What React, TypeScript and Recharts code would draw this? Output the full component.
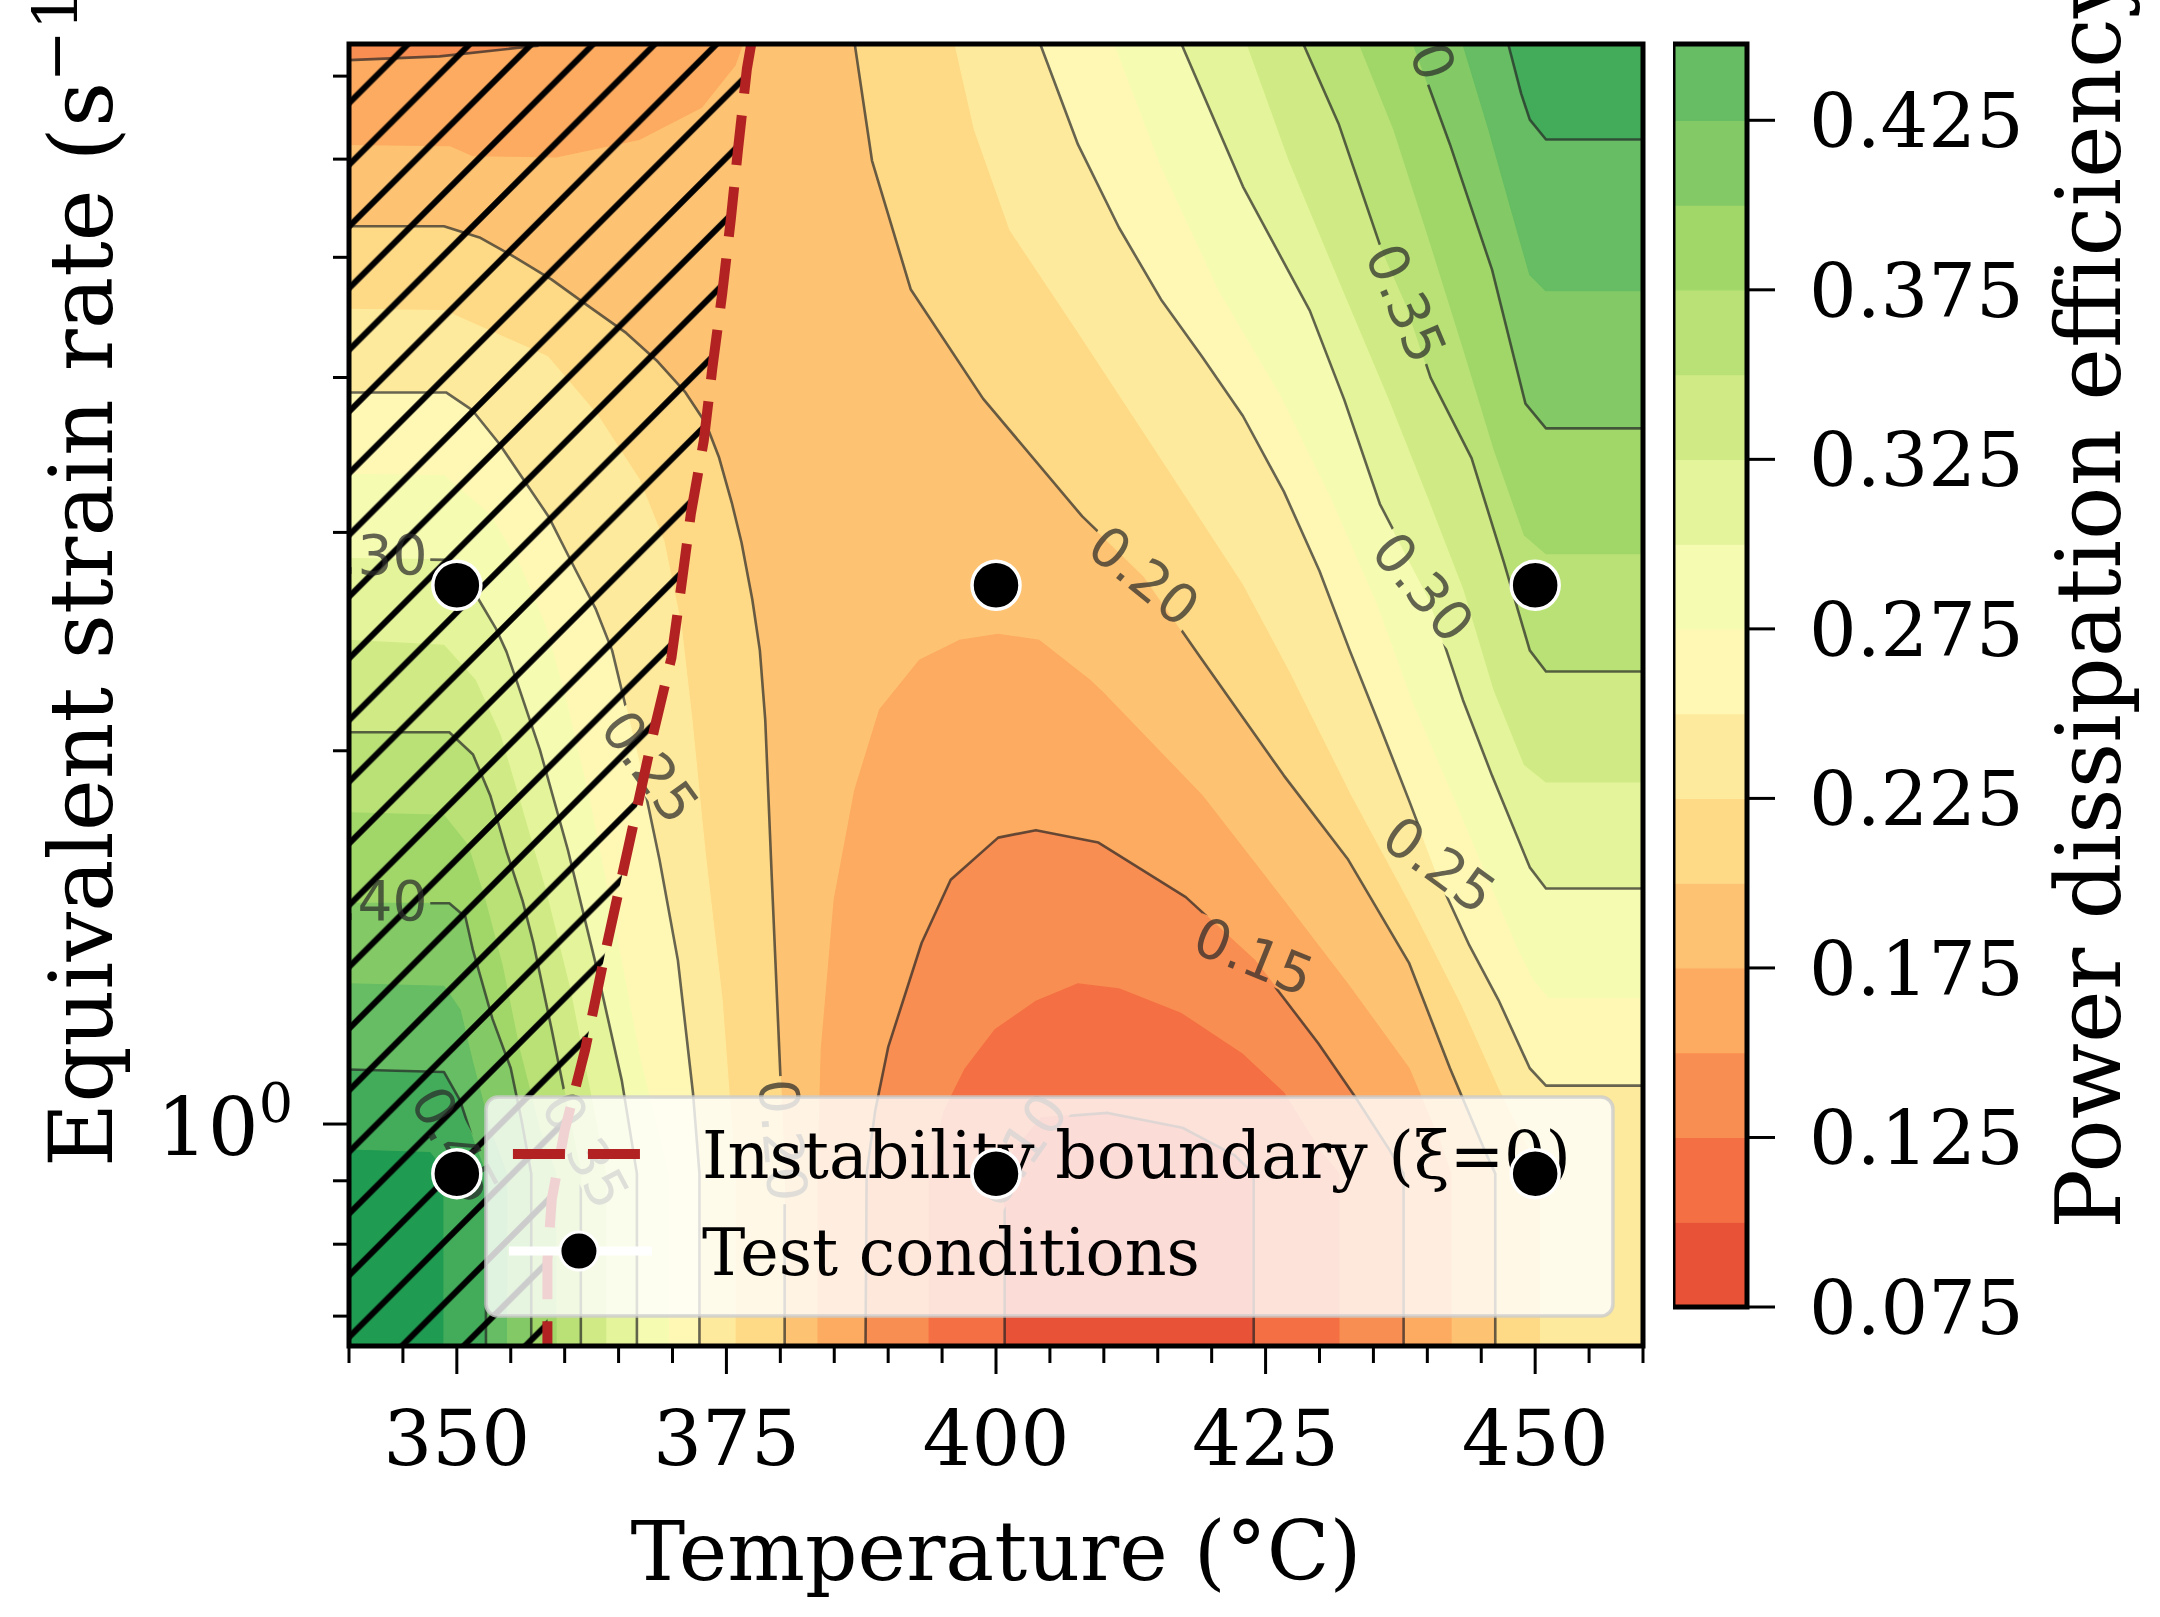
import React from 'react';
import { ScatterChart, Scatter, XAxis, YAxis } from 'recharts';

const SERIF = '"DejaVu Serif", "Liberation Serif", serif';
const SANS = '"DejaVu Sans", "Liberation Sans", sans-serif';
const FIG_W = 2160;
const FIG_H = 1617;

// ---- axes ----
const T_MIN = 340;
const T_MAX = 460;
const LOG_RATE_MIN = -0.179; // log10 of strain rate at the bottom of the plot
const LOG_RATE_MAX = 0.871;  // log10 of strain rate at the top of the plot
const Y_DOMAIN = [Math.pow(10, LOG_RATE_MIN), Math.pow(10, LOG_RATE_MAX)];
const X_TICKS = [340, 345, 350, 355, 360, 365, 370, 375, 380, 385, 390, 395, 400, 405, 410, 415, 420, 425, 430, 435, 440, 445, 450, 455, 460];
const X_MAJOR_TICKS = [350, 375, 400, 425, 450];
const Y_TICKS = [0.7, 0.8, 0.9, 1, 2, 3, 4, 5, 6, 7];
const Y_MAJOR_TICKS = [1];

// ---- test conditions ----
const TEST_TEMPS = [350, 400, 450, 350, 400, 450];
const TEST_RATES = [2.72, 2.72, 2.72, 0.912, 0.912, 0.912];

// ---- contour bands (lower bound of each band) and colours ----
const BAND_LEVELS = [0.075, 0.1, 0.125, 0.15, 0.175, 0.2, 0.225, 0.25, 0.275, 0.3, 0.325, 0.35, 0.375, 0.4, 0.425, 0.45, 0.475];
const BAND_COLORS = ['#e85337', '#f47044', '#f98e52', '#fdab60', '#fdc272', '#fed986', '#feea9c', '#fff8b4', '#f6fbb2', '#e4f49a', '#d0eb85', '#b9e176', '#a1d769', '#83ca66', '#66bd63', '#43ac5a', '#209b52'];
const BAND_STEP = 0.025;

// ---- colorbar ----
const CB_MIN = 0.075;
const CB_MAX = 0.4475;
const CB_TICKS = [0.075, 0.125, 0.175, 0.225, 0.275, 0.325, 0.375, 0.425];

// ---- iso-efficiency curves read from the map: [temperature (°C), log10 strain rate] ----
// top-left low corner (efficiency below the level)
const ISO_TL_015 = [[340, 0.858], [348.4, 0.861], [356.8, 0.869], [359.6, 0.871]];
const ISO_TL_0175 = [[340, 0.79], [349.4, 0.789], [351.5, 0.781], [359.2, 0.78], [366.9, 0.794], [372.7, 0.82], [375.8, 0.854], [376.5, 0.871]];
// central valley (efficiency below the level)
const ISO_V_0175 = [[383.5, -0.179], [383.5, -0.04], [383.8, 0.06], [385.0, 0.181], [386.9, 0.269], [389.2, 0.334], [392.9, 0.374], [396.6, 0.39], [400.2, 0.395], [404.0, 0.39], [408.7, 0.358], [409.9, 0.348], [419.1, 0.265], [426.7, 0.18], [432.6, 0.113], [438.3, 0.045], [441.1, -0.013], [442.2, -0.04], [442.2, -0.179]];
const ISO_V_015 = [[387.9, -0.179], [388.0, -0.04], [388.8, 0.011], [390.0, 0.062], [393.1, 0.146], [395.8, 0.197], [400.2, 0.231], [403.7, 0.237], [409.5, 0.227], [417.6, 0.183], [424.0, 0.132], [429.9, 0.065], [433.3, 0.022], [436.5, -0.021], [437.8, -0.04], [437.8, -0.179]];
const ISO_V_0125 = [[393.8, -0.179], [393.8, -0.04], [395.2, 0.011], [397.1, 0.044], [399.9, 0.076], [403.7, 0.099], [407.6, 0.113], [411.4, 0.109], [417.2, 0.089], [422.9, 0.056], [426.7, 0.025], [430.0, -0.021], [431.8, -0.04], [431.8, -0.179]];
const ISO_V_010 = [[400.8, -0.179], [400.8, -0.04], [401.7, -0.021], [404.2, 0.005], [410.3, 0.009], [417.3, -0.003], [422.1, -0.025], [423.9, -0.04], [423.9, -0.179]];
// left (low temperature) high-efficiency side
const ISO_L_020 = [[340, 0.724], [348.8, 0.724], [352.1, 0.715], [355.4, 0.699], [358.8, 0.681], [362.3, 0.659], [365.7, 0.638], [368.5, 0.616], [371.2, 0.59], [373.1, 0.565], [374.3, 0.538], [375.5, 0.501], [376.4, 0.469], [377.4, 0.423], [378.1, 0.382], [378.6, 0.326], [379.2, 0.2], [379.9, 0.06], [380.4, -0.04], [380.4, -0.179]];
const ISO_L_0225 = [[340, 0.657], [348.8, 0.656], [358.4, 0.619], [363.1, 0.571], [366.9, 0.52], [369.2, 0.47], [370.8, 0.402], [371.8, 0.326], [373.0, 0.221], [374.6, 0.1], [375.8, -0.04], [375.8, -0.179]];
const ISO_L_025 = [[340, 0.59], [349.0, 0.59], [351.4, 0.576], [353.9, 0.549], [356.4, 0.517], [358.5, 0.49], [361.0, 0.447], [362.9, 0.415], [364.4, 0.382], [365.4, 0.346], [367.0, 0.288], [368.8, 0.213], [370.5, 0.132], [371.9, 0.025], [372.5, -0.04], [372.5, -0.179]];
const ISO_L_0275 = [[340, 0.524], [348.8, 0.523], [353.1, 0.491], [355.8, 0.451], [358.2, 0.402], [360.0, 0.346], [362.3, 0.261], [364.7, 0.156], [367.0, 0.052], [369.6, -0.04], [369.6, -0.179]];
const ISO_L_030 = [[340, 0.456], [349.3, 0.455], [350.8, 0.441], [352.3, 0.419], [353.6, 0.4], [354.6, 0.381], [355.6, 0.356], [357.7, 0.302], [360.3, 0.221], [362.8, 0.132], [365.3, 0.035], [366.7, -0.04], [366.7, -0.179]];
const ISO_L_0325 = [[340, 0.39], [348.8, 0.386], [351.7, 0.358], [354.0, 0.314], [355.8, 0.261], [358.2, 0.189], [360.5, 0.108], [362.5, 0.019], [363.8, -0.04], [363.8, -0.179]];
const ISO_L_035 = [[340, 0.316], [349.3, 0.316], [351.5, 0.298], [353.1, 0.265], [354.6, 0.22], [356.1, 0.18], [357.1, 0.146], [358.8, 0.076], [360.5, 0.003], [361.5, -0.04], [361.5, -0.179]];
const ISO_L_0375 = [[340, 0.251], [348.8, 0.249], [351.0, 0.225], [352.6, 0.181], [354.2, 0.128], [355.8, 0.06], [357.7, -0.005], [359.2, -0.04], [359.2, -0.179]];
const ISO_L_040 = [[340, 0.178], [349.3, 0.178], [350.8, 0.167], [351.5, 0.14], [353.3, 0.085], [355.0, 0.045], [356.0, 0.003], [356.9, -0.04], [356.9, -0.179]];
const ISO_L_0425 = [[340, 0.113], [348.8, 0.111], [350.3, 0.092], [351.4, 0.052], [353.1, -0.005], [354.6, -0.04], [354.6, -0.179]];
const ISO_L_045 = [[340, 0.044], [348.8, 0.042], [350.3, 0.019], [351.5, -0.013], [352.7, -0.04], [352.7, -0.179]];
const ISO_L_0475 = [[340, -0.021], [347.5, -0.023], [348.4, -0.033], [348.7, -0.04], [348.7, -0.179]];
// right (high temperature) high-efficiency side
const ISO_R_020 = [[386.9, 0.871], [388.5, 0.777], [392.1, 0.673], [398.8, 0.585], [408.0, 0.49], [413.7, 0.442], [418.9, 0.377], [426.7, 0.281], [432.6, 0.214], [438.3, 0.13], [442.1, 0.045], [445.3, -0.021], [446.3, -0.04], [446.3, -0.179]];
const ISO_R_0225 = [[396.2, 0.871], [398.0, 0.802], [401.3, 0.721], [407.6, 0.639], [415.3, 0.537], [422.9, 0.436], [427.2, 0.366], [433.0, 0.265], [438.3, 0.18], [443.2, 0.096], [446.7, 0.028], [449.5, -0.021], [450.5, -0.04], [450.5, -0.179]];
const ISO_R_025 = [[404.1, 0.871], [407.6, 0.79], [411.4, 0.723], [415.3, 0.665], [419.1, 0.619], [422.9, 0.571], [426.7, 0.51], [430.0, 0.446], [432.8, 0.382], [435.6, 0.321], [438.3, 0.261], [441.1, 0.197], [443.9, 0.144], [446.6, 0.1], [449.5, 0.045], [451.0, 0.031], [460, 0.031]];
const ISO_R_0275 = [[411.0, 0.871], [415.3, 0.773], [420.7, 0.672], [426.4, 0.588], [431.2, 0.503], [435.4, 0.419], [438.6, 0.342], [442.6, 0.261], [445.7, 0.197], [448.5, 0.14], [449.9, 0.116], [451.3, 0.102], [460, 0.102]];
const ISO_R_030 = [[417.2, 0.871], [422.9, 0.756], [429.1, 0.656], [432.3, 0.584], [435.6, 0.5], [440.2, 0.423], [443.3, 0.342], [446.0, 0.281], [449.5, 0.207], [451.0, 0.19], [460, 0.19]];
const ISO_R_0325 = [[423.3, 0.871], [427.2, 0.777], [431.8, 0.681], [436.5, 0.584], [440.2, 0.503], [443.4, 0.431], [446.2, 0.35], [449.0, 0.29], [451.0, 0.276], [460, 0.276]];
const ISO_R_035 = [[428.5, 0.871], [431.8, 0.806], [435.6, 0.709], [438.0, 0.662], [440.3, 0.602], [444.1, 0.537], [447.1, 0.453], [449.5, 0.382], [451.0, 0.365], [460, 0.365]];
const ISO_R_0375 = [[433.7, 0.871], [436.9, 0.802], [440.2, 0.713], [443.4, 0.624], [446.2, 0.544], [449.0, 0.475], [451.0, 0.46], [460, 0.46]];
const ISO_R_040 = [[438.7, 0.871], [442.1, 0.79], [446.0, 0.689], [449.1, 0.581], [451.0, 0.561], [460, 0.561]];
const ISO_R_0425 = [[443.3, 0.871], [445.7, 0.802], [447.8, 0.737], [449.5, 0.685], [451.0, 0.672], [460, 0.672]];
const ISO_R_045 = [[447.5, 0.871], [448.7, 0.831], [449.5, 0.81], [451.0, 0.794], [460, 0.794]];

// instability boundary (xi = 0)
const INSTABILITY = [[377.3, 0.871], [376.9, 0.851], [376.1, 0.788], [375.4, 0.729], [374.6, 0.669], [373.7, 0.61], [372.9, 0.551], [371.7, 0.492], [370.8, 0.433], [369.9, 0.376], [368.3, 0.318], [366.1, 0.231], [363.8, 0.14], [361.9, 0.06], [360.0, -0.005], [358.8, -0.061], [358.4, -0.11], [358.4, -0.179]];

// contour labels: temperature, log10 rate, text, rotation
const LABEL_TEMPS = [413.7, 423.9, 441.1, 439.6, 438.0, 439.1, 367.9, 341.6, 341.6, 349.8, 363.3, 402.2, 380.2, 361.9];
const LABEL_LOGRATES = [0.442, 0.135, 0.209, 0.433, 0.662, 0.89, 0.288, 0.459, 0.18, -0.017, 0.889, -0.021, -0.013, -0.021];
const LABEL_TEXTS = ['0.20', '0.15', '0.25', '0.30', '0.35', '0.40', '0.25', '0.30', '0.40', '0.45', '0.15', '0.10', '0.20', '0.35'];
const LABEL_ANGLES = [39, 22, 36, 50, 67, 70, 54, 0, 0, 62, -6, -55, 85, 62];

// legend anchor (upper-left corner of the legend frame)
const LEGEND_T = 352.7;
const LEGEND_LOGRATE = 0.0218;

// ---------- derived tables ----------
const BL = [T_MIN, LOG_RATE_MIN];
const BR = [T_MAX, LOG_RATE_MIN];
const TR = [T_MAX, LOG_RATE_MAX];
const TL = [T_MIN, LOG_RATE_MAX];
const toRows = (arr) => arr.map(([t, l]) => ({ t, r: Math.pow(10, l) }));
const colorOf = (lev) => BAND_COLORS[BAND_LEVELS.indexOf(lev)];

const REGIONS = [
  { pts: [BL, BR, TR, TL], lev: 0.175 },
  { pts: [...ISO_TL_0175, TL], lev: 0.15 },
  { pts: [...ISO_TL_015, TL], lev: 0.125 },
  { pts: ISO_V_0175, lev: 0.15 },
  { pts: ISO_V_015, lev: 0.125 },
  { pts: ISO_V_0125, lev: 0.1 },
  { pts: ISO_V_010, lev: 0.075 },
  { pts: [...ISO_L_020, BL], lev: 0.2 },
  { pts: [...ISO_R_020, BR, TR], lev: 0.2 },
  { pts: [...ISO_L_0225, BL], lev: 0.225 },
  { pts: [...ISO_R_0225, BR, TR], lev: 0.225 },
  { pts: [...ISO_L_025, BL], lev: 0.25 },
  { pts: [...ISO_R_025, TR], lev: 0.25 },
  { pts: [...ISO_L_0275, BL], lev: 0.275 },
  { pts: [...ISO_R_0275, TR], lev: 0.275 },
  { pts: [...ISO_L_030, BL], lev: 0.3 },
  { pts: [...ISO_R_030, TR], lev: 0.3 },
  { pts: [...ISO_L_0325, BL], lev: 0.325 },
  { pts: [...ISO_R_0325, TR], lev: 0.325 },
  { pts: [...ISO_L_035, BL], lev: 0.35 },
  { pts: [...ISO_R_035, TR], lev: 0.35 },
  { pts: [...ISO_L_0375, BL], lev: 0.375 },
  { pts: [...ISO_R_0375, TR], lev: 0.375 },
  { pts: [...ISO_L_040, BL], lev: 0.4 },
  { pts: [...ISO_R_040, TR], lev: 0.4 },
  { pts: [...ISO_L_0425, BL], lev: 0.425 },
  { pts: [...ISO_R_0425, TR], lev: 0.425 },
  { pts: [...ISO_L_045, BL], lev: 0.45 },
  { pts: [...ISO_R_045, TR], lev: 0.45 },
  { pts: [...ISO_L_0475, BL], lev: 0.475 },
];

const CONTOUR_LINES = [ISO_TL_015, ISO_V_015, ISO_V_010, ISO_L_020, ISO_L_025, ISO_L_030, ISO_L_035, ISO_L_040, ISO_L_045, ISO_R_020, ISO_R_025, ISO_R_030, ISO_R_035, ISO_R_040, ISO_R_045];

const LABEL_ROWS = LABEL_TEMPS.map((t, i) => ({ t, r: Math.pow(10, LABEL_LOGRATES[i]), text: LABEL_TEXTS[i], angle: LABEL_ANGLES[i] }));
const TEST_ROWS = TEST_TEMPS.map((t, i) => ({ t, r: TEST_RATES[i] }));
const LEGEND_ROWS = [{ t: LEGEND_T, r: Math.pow(10, LEGEND_LOGRATE) }];
const HATCH_ROWS = toRows([...INSTABILITY, BL, TL]);
const FRAME_ROWS = toRows([BL, BR, TR, TL]);

// colorbar cells: one rectangle per band
const CB_BANDS = BAND_LEVELS.filter((lev) => lev < CB_MAX).map((lev) => {
  const top = Math.min(lev + BAND_STEP, CB_MAX);
  return { lev, rows: [{ x: 0, v: lev }, { x: 1, v: lev }, { x: 1, v: top }, { x: 0, v: top }] };
});
const CB_FRAME_ROWS = [{ x: 0, v: CB_MIN }, { x: 1, v: CB_MIN }, { x: 1, v: CB_MAX }, { x: 0, v: CB_MAX }];

// ---------- renderers ----------
const pathOf = (pts) => (pts || []).map((p, i) => `${i ? 'L' : 'M'}${Number(p.x).toFixed(2)},${Number(p.y).toFixed(2)}`).join(' ');

const NoShape = () => <g />;

const FillPoly = (props) => (
  <path d={pathOf(props.points) + ' Z'} fill={props.color} stroke={props.color} strokeWidth={1.2} strokeLinejoin="round" />
);

const ContourPath = (props) => (
  <path d={pathOf(props.points)} fill="none" stroke="#262626" strokeOpacity={0.7} strokeWidth={2.6} strokeLinejoin="round" mask="url(#clabel-mask)" />
);

const LabelMask = (props) => {
  const pts = props.points || [];
  return (
    <mask id="clabel-mask" maskUnits="userSpaceOnUse" x={0} y={0} width={FIG_W} height={FIG_H}>
      <rect x={0} y={0} width={FIG_W} height={FIG_H} fill="#fff" />
      {pts.map((p, i) => (
        <rect key={i} x={-64} y={-21} width={128} height={42} fill="#000" transform={`translate(${p.x},${p.y}) rotate(${LABEL_ANGLES[i]})`} />
      ))}
    </mask>
  );
};

const ContourLabel = (props) => {
  const { cx, cy, payload } = props;
  return (
    <text x={cx} y={cy} transform={`rotate(${payload.angle},${cx},${cy})`} textAnchor="middle" dominantBaseline="central" fontFamily={SANS} fontSize={55} fill="#2a2a2a" fillOpacity={0.72}>
      {payload.text}
    </text>
  );
};

const HatchPoly = (props) => (
  <g>
    <defs>
      <pattern id="hatch45" patternUnits="userSpaceOnUse" x={20.3} y={0} width={61.7} height={61.7}>
        <path d="M0,61.7 L61.7,0 M-15,15 L15,-15 M46.7,76.7 L76.7,46.7" stroke="#000" strokeWidth={6} />
      </pattern>
    </defs>
    <path d={pathOf(props.points) + ' Z'} fill="url(#hatch45)" stroke="none" />
  </g>
);

const DashedPath = (props) => (
  <path d={pathOf(props.points)} fill="none" stroke="#b22222" strokeWidth={10} strokeDasharray="50 22" />
);

const FramePath = (props) => (
  <path d={pathOf(props.points) + ' Z'} fill="none" stroke="#000" strokeWidth={props.width || 5} />
);

const TestPoint = (props) => (
  <circle cx={props.cx} cy={props.cy} r={24} fill="#000" stroke="#fff" strokeWidth={3.5} />
);

const LegendBox = (props) => {
  const { cx, cy } = props;
  return (
    <g>
      <rect x={cx} y={cy} width={1127} height={219} rx={12} ry={12} fill="#fff" fillOpacity={0.8} stroke="#cccccc" strokeOpacity={0.8} strokeWidth={3.5} />
      <line x1={cx + 27} x2={cx + 154} y1={cy + 57} y2={cy + 57} stroke="#b22222" strokeWidth={10} strokeDasharray="52 23" />
      <text x={cx + 216} y={cy + 81} fontFamily={SERIF} fontSize={65} fill="#000">Instability boundary (ξ=0)</text>
      <line x1={cx + 23} x2={cx + 166} y1={cy + 154} y2={cy + 154} stroke="#fff" strokeWidth={9} />
      <circle cx={cx + 93} cy={cy + 154} r={19} fill="#000" stroke="#fff" strokeWidth={3} />
      <text x={cx + 216} y={cy + 178} fontFamily={SERIF} fontSize={65} fill="#000">Test conditions</text>
    </g>
  );
};

const renderXTick = (props) => {
  const { x, y, payload } = props;
  const major = X_MAJOR_TICKS.includes(payload.value);
  return (
    <g>
      <line x1={x} y1={y} x2={x} y2={y + (major ? 28 : 17)} stroke="#000" strokeWidth={3} />
      {major ? (
        <text x={x} y={y + 119} textAnchor="middle" fontFamily={SERIF} fontSize={77} fill="#000">{payload.value}</text>
      ) : null}
    </g>
  );
};

const renderYTick = (props) => {
  const { x, y, payload } = props;
  const major = Y_MAJOR_TICKS.includes(payload.value);
  return (
    <g>
      <line x1={x} y1={y} x2={x - (major ? 26 : 16)} y2={y} stroke="#000" strokeWidth={3} />
      {major ? (
        <text x={x - 56} y={y + 31} textAnchor="end" fontFamily={SERIF} fontSize={80} fill="#000">
          10<tspan dy={-33} fontSize={54}>0</tspan>
        </text>
      ) : null}
    </g>
  );
};

const renderCbTick = (props) => {
  const { x, y, payload } = props;
  return (
    <g>
      <line x1={x} y1={y} x2={x + 28} y2={y} stroke="#000" strokeWidth={3} />
      <text x={x + 62} y={y + 27} fontFamily={SERIF} fontSize={75} fill="#000">{Number(payload.value).toFixed(3)}</text>
    </g>
  );
};

export default function App() {
  return (
    <div style={{ position: 'absolute', left: 0, top: 0, width: FIG_W, height: FIG_H, background: '#fff', overflow: 'hidden' }}>
      <div style={{ position: 'absolute', left: 0, top: 0 }}>
        <ScatterChart width={FIG_W} height={FIG_H} margin={{ top: 44, right: 517, bottom: 121, left: 0 }}>
          <XAxis dataKey="t" type="number" domain={[T_MIN, T_MAX]} ticks={X_TICKS} interval={0} tick={renderXTick} tickSize={0} tickMargin={0} tickLine={false} axisLine={false} height={150} allowDataOverflow />
          <YAxis dataKey="r" type="number" scale="log" domain={Y_DOMAIN} ticks={Y_TICKS} interval={0} tick={renderYTick} tickSize={0} tickMargin={0} tickLine={false} axisLine={false} width={349} allowDataOverflow />
          <XAxis xAxisId="f" dataKey="t" type="number" domain={[T_MIN, T_MAX]} hide />
          <YAxis yAxisId="f" dataKey="r" type="number" scale="log" domain={Y_DOMAIN} hide />

          {REGIONS.map((reg, i) => (
            <Scatter key={`reg-${i}`} data={toRows(reg.pts)} shape={NoShape} line={<FillPoly color={colorOf(reg.lev)} />} isAnimationActive={false} />
          ))}
          {CONTOUR_LINES.map((ln, i) => (
            <Scatter key={`cl-${i}`} data={toRows(ln)} shape={NoShape} line={<ContourPath />} isAnimationActive={false} />
          ))}
          <Scatter key="hatch" data={HATCH_ROWS} shape={NoShape} line={<HatchPoly />} isAnimationActive={false} />
          <Scatter key="labels" data={LABEL_ROWS} shape={ContourLabel} line={<LabelMask />} isAnimationActive={false} />
          <Scatter key="instab" data={toRows(INSTABILITY)} shape={NoShape} line={<DashedPath />} isAnimationActive={false} />
          <Scatter key="legend" data={LEGEND_ROWS} shape={LegendBox} isAnimationActive={false} />
          <Scatter key="tests" data={TEST_ROWS} shape={TestPoint} isAnimationActive={false} />
          <Scatter key="frame" xAxisId="f" yAxisId="f" data={FRAME_ROWS} shape={NoShape} line={<FramePath width={5} />} isAnimationActive={false} />
        </ScatterChart>
      </div>

      <div style={{ position: 'absolute', left: 1673, top: 0 }}>
        <ScatterChart width={487} height={FIG_H} margin={{ top: 44, right: 0, bottom: 310, left: 0 }}>
          <XAxis dataKey="x" type="number" domain={[0, 1]} hide />
          <YAxis dataKey="v" type="number" orientation="right" domain={[CB_MIN, CB_MAX]} ticks={CB_TICKS} interval={0} tick={renderCbTick} tickSize={0} tickMargin={0} tickLine={false} axisLine={false} width={413} />
          {CB_BANDS.map((b) => (
            <Scatter key={`cb-${b.lev}`} data={b.rows} shape={NoShape} line={<FillPoly color={colorOf(b.lev)} />} isAnimationActive={false} />
          ))}
          <Scatter key="cb-frame" data={CB_FRAME_ROWS} shape={NoShape} line={<FramePath width={5} />} isAnimationActive={false} />
        </ScatterChart>
      </div>

      <svg width={FIG_W} height={FIG_H} style={{ position: 'absolute', left: 0, top: 0, pointerEvents: 'none' }}>
        <text x={996} y={1580} textAnchor="middle" fontFamily={SERIF} fontSize={82} fill="#000">Temperature (°C)</text>
        <text transform="translate(112,1167) rotate(-90)" fontFamily={SERIF} fontSize={88} fill="#000">
          Equivalent strain rate (s<tspan dy={-35} fontSize={62}>−1</tspan><tspan dy={35}>)</tspan>
        </text>
        <text transform="translate(2120,1229) rotate(-90)" fontFamily={SERIF} fontSize={89} fill="#000">Power dissipation efficiency</text>
      </svg>
    </div>
  );
}
